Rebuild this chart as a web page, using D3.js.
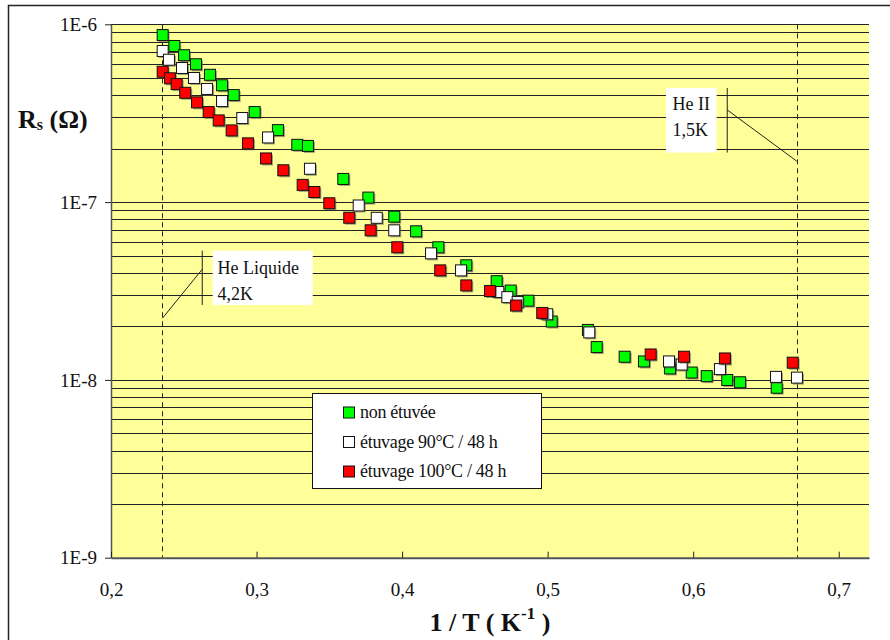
<!DOCTYPE html>
<html>
<head>
<meta charset="utf-8">
<script src="https://cdn.jsdelivr.net/npm/d3@7"></script>
<style>
body { margin: 0; background: #fff; }
text { font-family: "Liberation Serif", "Times New Roman", serif; }
</style>
</head>
<body>
<div id="vis"></div>
<script>
// data
const seriesNames = ["non étuvée", "étuvage 90°C / 48 h", "étuvage 100°C / 48 h"];
const seriesColors = ["#00ff00", "#ffffff", "#ff0000"];

const greenX = [0.2355, 0.2435, 0.2502, 0.2584, 0.268, 0.2763, 0.2843, 0.2987, 0.3147, 0.328, 0.3353,
  0.3596, 0.3768, 0.3946, 0.4096, 0.4249, 0.4441, 0.465, 0.4746, 0.4867, 0.5028, 0.5277, 0.5337,
  0.5529, 0.5662, 0.5841, 0.599, 0.6093, 0.6234, 0.6322, 0.6574];
const greenR = [8.7e-7, 7.55e-7, 6.7e-7, 5.96e-7, 5.2e-7, 4.54e-7, 4.0e-7, 3.21e-7, 2.54e-7, 2.1e-7, 2.07e-7,
  1.35e-7, 1.06e-7, 8.28e-8, 6.85e-8, 5.57e-8, 4.41e-8, 3.59e-8, 3.18e-8, 2.79e-8, 2.13e-8, 1.91e-8, 1.53e-8,
  1.35e-8, 1.27e-8, 1.16e-8, 1.10e-8, 1.05e-8, 9.99e-9, 9.7e-9, 9.04e-9];

const whiteX = [0.2355, 0.2398, 0.2488, 0.257, 0.266, 0.2763, 0.2902, 0.3079, 0.3367, 0.3702, 0.3826, 0.3946,
  0.4199, 0.4405, 0.4661, 0.4723, 0.4794, 0.4997, 0.5286, 0.5834, 0.5921, 0.6184, 0.6569, 0.6713];
const whiteR = [7.08e-7, 6.32e-7, 5.68e-7, 4.99e-7, 4.33e-7, 3.7e-7, 2.97e-7, 2.31e-7, 1.54e-7, 9.57e-8, 8.16e-8, 6.94e-8,
  5.15e-8, 4.13e-8, 3.12e-8, 2.92e-8, 2.74e-8, 2.34e-8, 1.85e-8, 1.27e-8, 1.22e-8, 1.15e-8, 1.04e-8, 1.03e-8];

const redX = [0.2355, 0.2405, 0.2451, 0.251, 0.2591, 0.2671, 0.274, 0.2829, 0.2941, 0.3065, 0.3184, 0.3317, 0.3397,
  0.35, 0.3637, 0.3784, 0.3967, 0.4262, 0.4441, 0.4604, 0.4783, 0.4963, 0.5708, 0.5937, 0.6218, 0.6684];
const redR = [5.41e-7, 4.97e-7, 4.61e-7, 4.12e-7, 3.64e-7, 3.21e-7, 2.88e-7, 2.53e-7, 2.14e-7, 1.76e-7, 1.51e-7, 1.25e-7, 1.14e-7,
  9.85e-8, 8.17e-8, 6.94e-8, 5.57e-8, 4.13e-8, 3.40e-8, 3.16e-8, 2.62e-8, 2.38e-8, 1.39e-8, 1.35e-8, 1.32e-8, 1.25e-8];

const xTicks = [0.2, 0.3, 0.4, 0.5, 0.6, 0.7];
const yTicks = [1e-9, 1e-8, 1e-7, 1e-6];
const refLines = [1 / 4.25, 1 / 1.49];   // He liquide 4,2K and He II 1,5K

//frame
const WIDTH = 890, HEIGHT = 640;
const PLOT = {left: 111, right: 869, top: 24.3, bottom: 557.7};

const svg = d3.select("#vis").append("svg")
  .attr("width", WIDTH).attr("height", HEIGHT);

svg.append("rect")
  .attr("x", 8.5).attr("y", 5.5).attr("width", 1000).attr("height", 1000)
  .attr("fill", "none").attr("stroke", "#222").attr("stroke-width", 1.5);

const X_SCALE = d3.scaleLinear().domain([0.2, 0.7208]).range([PLOT.left, PLOT.right]);
const Y_SCALE = d3.scaleLog().domain([1e-9, 1e-6]).range([PLOT.bottom, PLOT.top]);

svg.append("rect")
  .attr("x", PLOT.left).attr("y", PLOT.top)
  .attr("width", PLOT.right - PLOT.left).attr("height", PLOT.bottom - PLOT.top)
  .attr("fill", "#ffff99");

// grid lines: every 1..9 of each decade
const gridVals = [];
[1e-9, 1e-8, 1e-7].forEach(d => { for (let k = 1; k <= 9; k++) gridVals.push(d * k); });
gridVals.push(1e-6);

svg.append("g").selectAll("line")
  .data(gridVals.filter(v => v > 1.5e-9))
  .enter().append("line")
    .attr("x1", PLOT.left).attr("x2", PLOT.right)
    .attr("y1", d => Math.round(Y_SCALE(d)) + 0.5)
    .attr("y2", d => Math.round(Y_SCALE(d)) + 0.5)
    .attr("stroke", "#222").attr("stroke-width", 1);

// dashed reference temperatures
svg.append("g").selectAll("line")
  .data(refLines)
  .enter().append("line")
    .attr("x1", d => Math.round(X_SCALE(d)) + 0.5).attr("x2", d => Math.round(X_SCALE(d)) + 0.5)
    .attr("y1", PLOT.top).attr("y2", PLOT.bottom)
    .attr("stroke", "#222").attr("stroke-width", 1).attr("stroke-dasharray", "5,4");

// axes
const yAxis = svg.append("g")
  .attr("transform", "translate(" + PLOT.left + ",0)")
  .call(d3.axisLeft(Y_SCALE).tickValues(yTicks).tickSize(6).tickSizeOuter(0)
    .tickFormat(d => "1E" + Math.round(Math.log10(d))));
yAxis.select(".domain").attr("stroke", "#555").attr("stroke-width", 1.5);
yAxis.selectAll(".tick line").attr("stroke", "#222");
yAxis.selectAll(".tick text")
  .attr("x", -14).attr("dy", "0.33em")
  .attr("font-size", "19px").attr("fill", "#111")
  .attr("font-family", "Liberation Serif");

const xAxis = svg.append("g")
  .attr("transform", "translate(0," + PLOT.bottom + ")")
  .call(d3.axisBottom(X_SCALE).tickValues(xTicks).tickSizeInner(-6).tickSizeOuter(0)
    .tickFormat(d => d3.format(".1f")(d).replace(".", ",")));
xAxis.select(".domain").attr("stroke", "#555").attr("stroke-width", 2);
xAxis.selectAll(".tick line").attr("stroke", "#222");
xAxis.selectAll(".tick text")
  .attr("y", 38).attr("dy", null)
  .attr("font-size", "19px").attr("fill", "#111")
  .attr("font-family", "Liberation Serif");

// series markers: green, then white, then red on top
const series = [
  {x: greenX, r: greenR},
  {x: whiteX, r: whiteR},
  {x: redX, r: redR}
];
const M = 11;
series.forEach((s, i) => {
  const pts = s.x.map((x, j) => ({x: x, r: s.r[j]}));
  const g = svg.append("g");
  const mk = g.selectAll("g").data(pts).enter().append("g")
    .attr("transform", d => "translate(" + X_SCALE(d.x) + "," + Y_SCALE(d.r) + ")");
  mk.append("rect")
    .attr("x", -M / 2 + 1.5).attr("y", -M / 2 + 1.5).attr("width", M).attr("height", M)
    .attr("fill", "#555").attr("opacity", 0.55);
  mk.append("rect")
    .attr("x", -M / 2).attr("y", -M / 2).attr("width", M).attr("height", M)
    .attr("fill", seriesColors[i]).attr("stroke", "#111").attr("stroke-width", 1);
});

// annotations
function annotate(lines, boxX0, boxX1, boxR0, boxR1, stemX, elbowR, tipX, tipR, textX, baselines) {
  const bx0 = X_SCALE(boxX0), bx1 = X_SCALE(boxX1);
  const by0 = Y_SCALE(boxR0), by1 = Y_SCALE(boxR1);
  svg.append("rect")
    .attr("x", bx0).attr("y", by0).attr("width", bx1 - bx0).attr("height", by1 - by0)
    .attr("fill", "#fff");
  svg.append("line")
    .attr("x1", X_SCALE(stemX)).attr("x2", X_SCALE(stemX))
    .attr("y1", by0).attr("y2", by1)
    .attr("stroke", "#222").attr("stroke-width", 1);
  svg.append("line")
    .attr("x1", X_SCALE(stemX)).attr("y1", Y_SCALE(elbowR))
    .attr("x2", X_SCALE(tipX)).attr("y2", Y_SCALE(tipR))
    .attr("stroke", "#222").attr("stroke-width", 1);
  lines.forEach((t, k) => {
    svg.append("text")
      .attr("x", X_SCALE(textX)).attr("y", by0 + baselines[k])
      .attr("font-size", "18px").attr("fill", "#111")
      .text(t);
  });
}
annotate(["He Liquide", "4,2K"], 0.2699, 0.3386, 5.33e-8, 2.64e-8, 0.2627, 4.19e-8, refLines[0], 2.22e-8, 0.2732, [23, 49]);
annotate(["He II", "1,5K"], 0.5813, 0.6161, 4.38e-7, 1.9e-7, 0.6234, 3.3e-7, refLines[1], 1.70e-7, 0.5858, [22, 48]);

// legend
const legend = svg.append("g").attr("transform", "translate(312.5,393.5)");
legend.append("rect")
  .attr("width", 229).attr("height", 95)
  .attr("fill", "#fff").attr("stroke", "#111").attr("stroke-width", 1);
seriesNames.forEach((name, i) => {
  const cy = 19 + i * 29.5;
  legend.append("rect")
    .attr("x", 31).attr("y", cy - 5.5).attr("width", 11).attr("height", 11)
    .attr("fill", seriesColors[i]).attr("stroke", "#111").attr("stroke-width", 1);
  legend.append("text")
    .attr("x", 47.5).attr("y", cy + 5.5)
    .attr("font-size", "18px").attr("fill", "#111").attr("letter-spacing", "-0.3px")
    .text(name);
});

// axis titles
const yt = svg.append("text")
  .attr("x", 18).attr("y", 128)
  .attr("font-size", "26px").attr("font-weight", "bold").attr("fill", "#111");
yt.append("tspan").text("R");
yt.append("tspan").attr("font-size", "16px").attr("dy", 2).text("s");
yt.append("tspan").attr("dy", -2).text(" (Ω)");

const xt = svg.append("text")
  .attr("x", 490).attr("y", 631)
  .attr("text-anchor", "middle")
  .attr("font-size", "26px").attr("font-weight", "bold").attr("fill", "#111");
xt.append("tspan").text("1 / T ( K");
xt.append("tspan").attr("font-size", "17px").attr("dy", -12).text("-1");
xt.append("tspan").attr("dy", 12).text(" )");
</script>
</body>
</html>
